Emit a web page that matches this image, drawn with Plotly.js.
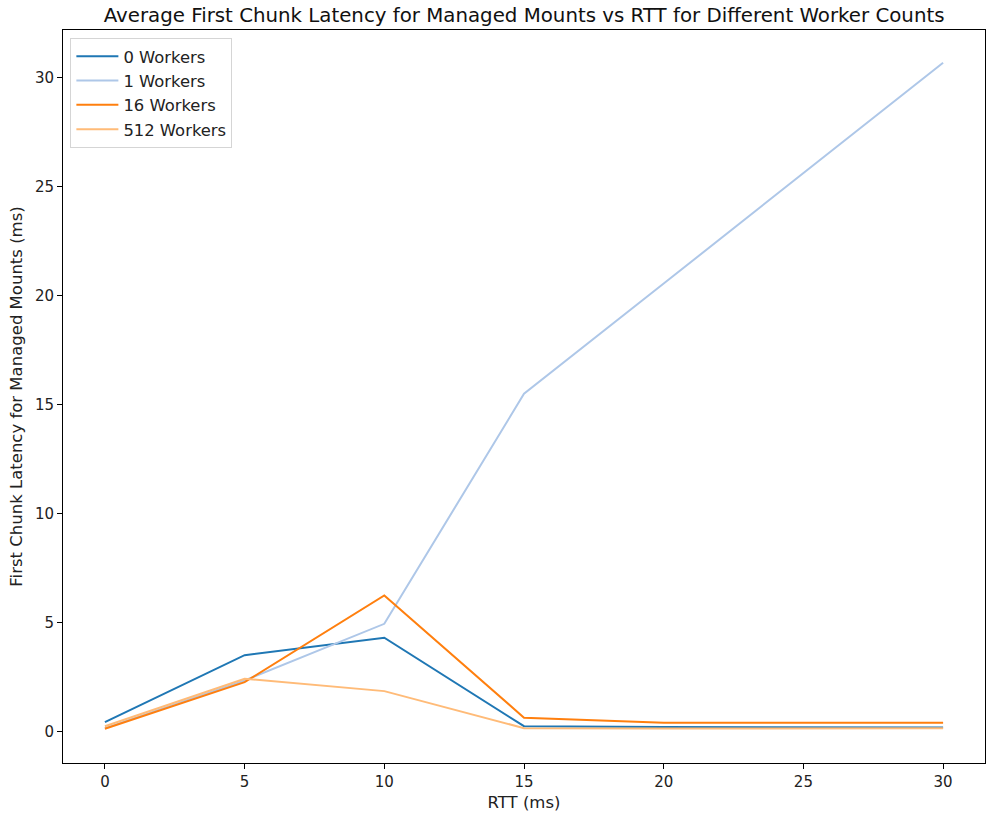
<!DOCTYPE html>
<html>
<head>
<meta charset="utf-8">
<script src="https://cdn.plot.ly/plotly-3.0.1.min.js"></script>
<style>html,body{margin:0;padding:0;background:#fff;}#chart{width:987px;height:817px;}</style>
</head>
<body>
<div id="chart"></div>
<script>
const rtt = [0, 5, 10, 15, 20, 30];
const workers0 = [0.43, 3.5, 4.3, 0.24, 0.2, 0.18];
const workers1 = [0.15, 2.34, 4.94, 15.5, 20.56, 30.7];
const workers16 = [0.12, 2.26, 6.24, 0.63, 0.4, 0.4];
const workers512 = [0.24, 2.42, 1.85, 0.15, 0.13, 0.14];
const seriesNames = ["0 Workers", "1 Workers", "16 Workers", "512 Workers"];
const seriesColors = ["#1f77b4", "#aec7e8", "#ff7f0e", "#ffbb78"];
const xTicks = [0, 5, 10, 15, 20, 25, 30];
const yTicks = [0, 5, 10, 15, 20, 25, 30];

const allY = [workers0, workers1, workers16, workers512];
const traces = allY.map((ys, i) => ({
  x: rtt, y: ys, type: "scatter", mode: "lines", name: seriesNames[i],
  line: {color: seriesColors[i], width: 2}
}));

const font = "DejaVu Sans, sans-serif";
const axisCommon = {
  showline: true, linecolor: "#000", linewidth: 1, mirror: true,
  ticks: "outside", ticklen: 5, tickcolor: "#000", showgrid: false, zeroline: false,
  tickfont: {family: font, size: 15, color: "#222"}
};
const layout = {
  width: 987, height: 817,
  margin: {l: 63, r: 2, t: 30, b: 54},
  paper_bgcolor: "#fff", plot_bgcolor: "#fff",
  font: {family: font, color: "#000"},
  title: {text: "Average First Chunk Latency for Managed Mounts vs RTT for Different Worker Counts",
          font: {family: font, size: 19.8, color: "#111"}, x: 0.531, xanchor: "center", y: 0.99, yanchor: "top"},
  xaxis: Object.assign({}, axisCommon, {range: [-1.5, 31.5], tickvals: xTicks,
    title: {text: "RTT (ms)", font: {family: font, size: 16.5, color: "#222"}, standoff: 6}}),
  yaxis: Object.assign({}, axisCommon, {range: [-1.45, 32.2], tickvals: yTicks,
    title: {text: "First Chunk Latency for Managed Mounts (ms)", font: {family: font, size: 16.5, color: "#222"}, standoff: 8}}),
  legend: {x: 0.008, y: 0.989, xanchor: "left", yanchor: "top", bgcolor: "rgba(255,255,255,0.8)",
           bordercolor: "#d5d5d5", borderwidth: 1, font: {family: font, size: 16.4, color: "#222"},
           tracegroupgap: 0, itemwidth: 42},
  showlegend: true
};
Plotly.newPlot("chart", traces, layout, {displayModeBar: false, staticPlot: true});
</script>
</body>
</html>
